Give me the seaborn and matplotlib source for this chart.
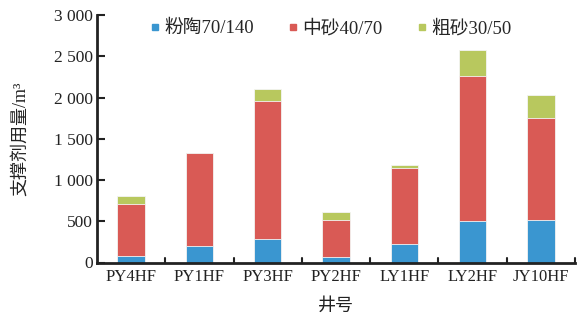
import matplotlib
matplotlib.use("Agg")
import matplotlib.pyplot as plt
import seaborn as sns
import numpy as np
import pandas as pd
from matplotlib.ticker import FuncFormatter, MultipleLocator
from matplotlib.lines import Line2D

wells = ["PY4HF", "PY1HF", "PY3HF", "PY2HF", "LY1HF", "LY2HF", "JY10HF"]
ceramic = [80, 200, 285, 65, 220, 505, 515]        # 粉陶70/140
medium = [630, 1125, 1675, 455, 925, 1760, 1240]   # 中砂40/70
coarse = [95, 5, 140, 90, 40, 315, 270]           # 粗砂30/50
series_names = ["粉陶70/140", "中砂40/70", "粗砂30/50"]
colors = ["#3A96D0", "#D95A55", "#B8C85E"]

sns.set_style("white")
plt.rcParams['font.family'] = ['Liberation Serif', 'Noto Sans CJK SC']
plt.rcParams['axes.unicode_minus'] = False

fig = plt.figure(figsize=(5.84, 3.17), dpi=100)
ax = fig.add_axes([97/584, 1-262.5/317, (575-97)/584, (262.5-15)/317])

c1 = np.array(ceramic)
c2 = c1 + np.array(medium)
c3 = c2 + np.array(coarse)

for vals, col in [(c3, colors[2]), (c2, colors[1]), (c1, colors[0])]:
    df = pd.DataFrame({"well": wells, "v": vals})
    sns.barplot(data=df, x="well", y="v", color=col, width=0.4, ax=ax,
                saturation=1, edgecolor="#f4f4f4", linewidth=0.6)

ax.set_xlim(-0.5, len(wells) - 0.5)
ax.set_ylim(0, 3000)
ax.yaxis.set_major_locator(MultipleLocator(500))
ax.yaxis.set_major_formatter(FuncFormatter(lambda v, p: f"{int(v):,}".replace(",", " ")))
ax.set_xticks(range(len(wells)))
ax.set_xticklabels(wells)
ax.tick_params(axis='x', length=0, labelsize=12, pad=5, colors="#222222")
ax.tick_params(axis='y', direction='in', length=6, width=1.5, labelsize=12.5, pad=3, left=True,
               colors="#222222")
# boundary ticks on x axis
for b in np.arange(0.5, len(wells), 1):
    ax.plot([b, b], [0, 60], color="#222222", lw=1.5, clip_on=False, zorder=5)

for s in ["top", "right"]:
    ax.spines[s].set_visible(False)
for s in ["left", "bottom"]:
    ax.spines[s].set_linewidth(2)
    ax.spines[s].set_color("#222222")

ax.set_xlabel("井号", fontsize=13, labelpad=9, color="#222222")
ax.set_ylabel("支撑剂用量/m³", fontsize=13, labelpad=18, color="#222222")

handles = [Line2D([], [], marker="s", linestyle="none", markersize=5,
                  markerfacecolor=c, markeredgecolor=c) for c in colors]
ax.legend(handles, series_names, loc="upper left", bbox_to_anchor=(0.07, 1.05),
          ncol=3, frameon=False, fontsize=13.5, handletextpad=0.1, columnspacing=1.7,
          handlelength=0.8)

fig.savefig("out.png", dpi=100)
